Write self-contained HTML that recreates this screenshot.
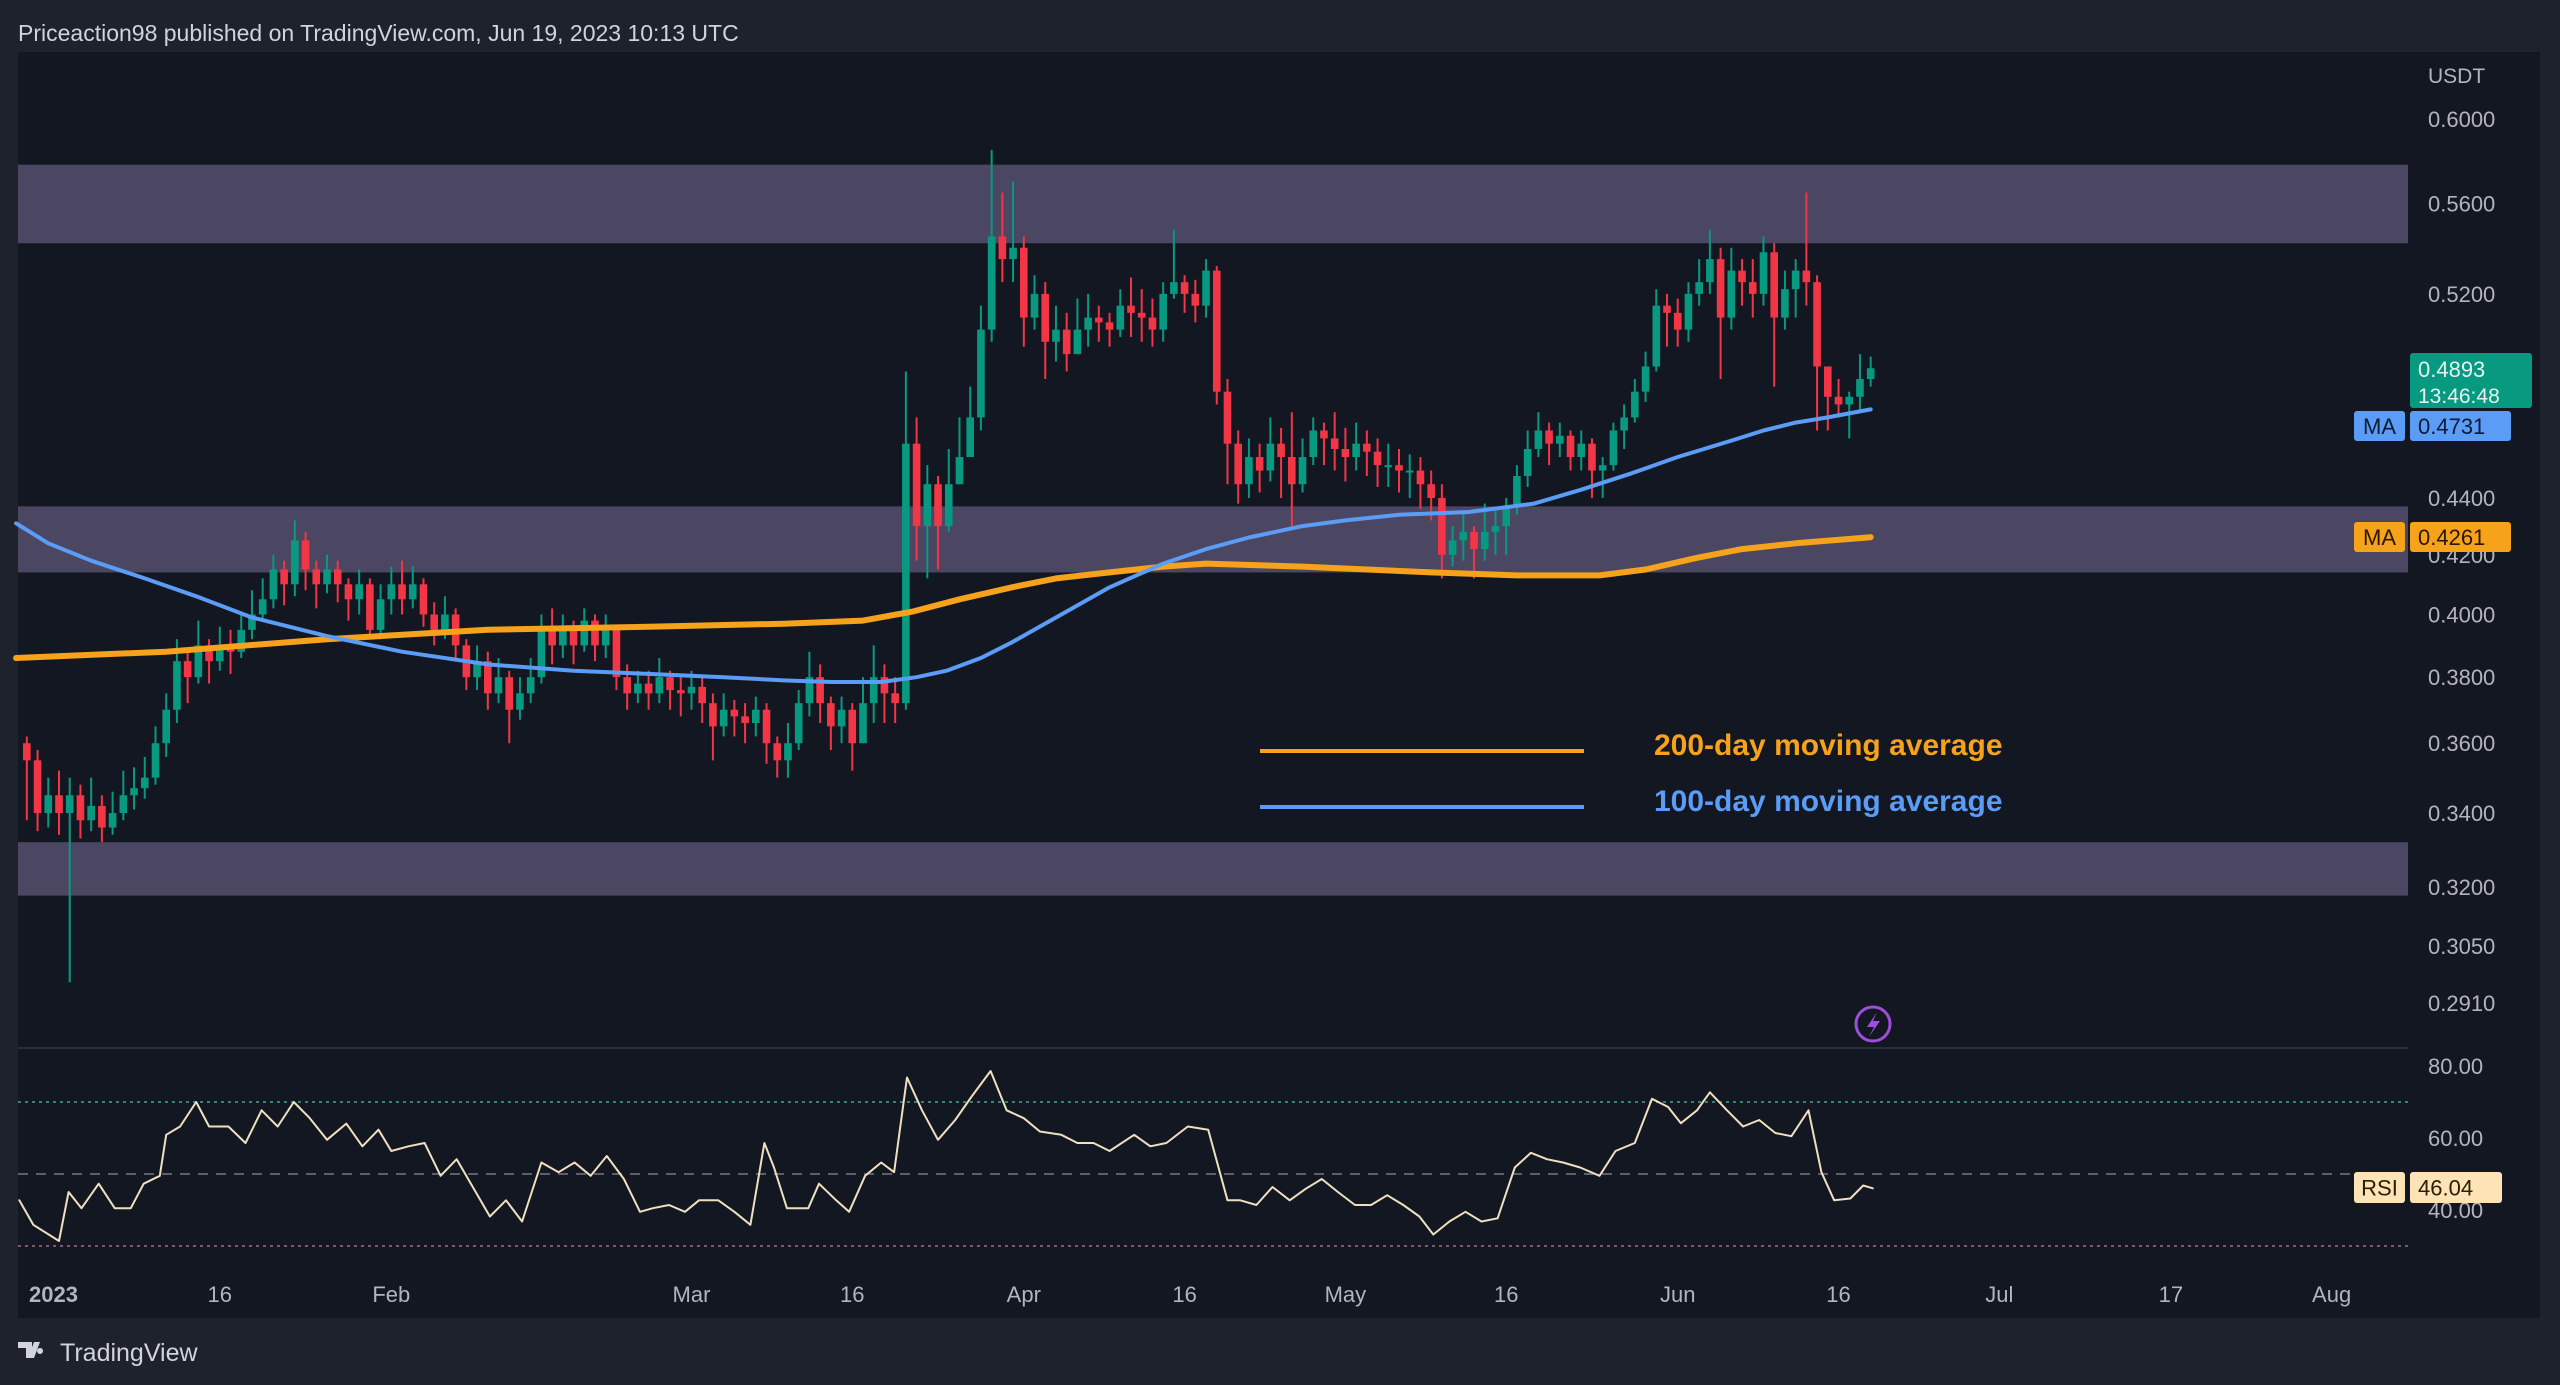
<!DOCTYPE html>
<html><head><meta charset="utf-8"><style>
html,body{margin:0;padding:0;background:#1e222d;width:2560px;height:1385px;overflow:hidden;font-family:"Liberation Sans",sans-serif}
svg{display:block}
</style></head><body>
<svg id="chart" width="2560" height="1385" xmlns="http://www.w3.org/2000/svg" font-family="Liberation Sans, sans-serif">
<rect x="0" y="0" width="2560" height="1385" fill="#1e222d"/>
<text x="18" y="41" fill="#d1d4dc" font-size="23">Priceaction98 published on TradingView.com, Jun 19, 2023 10:13 UTC</text>
<rect x="18" y="52" width="2522" height="1266" fill="#131722"/>
<g id="bands"></g>
<line x1="18" y1="1048" x2="2540" y2="1048" stroke="#2a2e39" stroke-width="2"/>
<g id="grid"></g>
<g id="candles"></g>
<g id="mas"></g>
<g id="rsi"></g>
<g id="axes"></g>
<g>
<line x1="1260" y1="751" x2="1584" y2="751" stroke="#f7a21b" stroke-width="4"/>
<text x="1654" y="747" fill="#f7a21b" font-size="30" font-weight="bold" dominant-baseline="middle">200-day moving average</text>
<line x1="1260" y1="807" x2="1584" y2="807" stroke="#5b9cf6" stroke-width="4"/>
<text x="1654" y="803" fill="#5b9cf6" font-size="30" font-weight="bold" dominant-baseline="middle">100-day moving average</text>
</g>
<g>
<circle cx="1873" cy="1024" r="17" fill="none" stroke="#9c4fd9" stroke-width="3"/>
<path d="M1877 1012 L1867 1027 L1874 1027 L1869 1037 L1880 1021 L1873 1021 Z" fill="#9c4fd9"/>
</g>
<g>
<path d="M18 1342 h14 v16 h-6 v-10 h-8 z M34 1342 h6 l-6 16 h-6 z M40 1348 a3 3 0 1 0 0.1 0 z" fill="#d1d4dc"/>
<text x="60" y="1361" fill="#d1d4dc" font-size="25">TradingView</text>
</g>
</svg>
<script>
const closes=[0.355,0.340,0.345,
0.340,0.345,0.338,0.342,0.336,0.340,0.345,0.347,0.350,0.360,
0.370,0.385,0.380,0.390,0.385,0.390,0.388,0.395,0.400,0.405,
0.415,0.410,0.425,0.415,0.410,0.415,0.410,0.405,0.410,0.395,0.405,
0.410,0.405,0.410,0.400,0.395,0.400,0.390,0.380,0.385,0.375,0.380,0.370,0.375,0.380,
0.395,0.390,0.395,0.390,0.398,0.390,0.395,0.380,0.375,0.378,0.375,0.380,0.376,0.375,
0.377,0.372,0.365,0.370,0.368,0.366,0.370,0.360,0.355,0.360,0.372,0.380,0.372,0.365,0.370,
0.360,0.372,0.380,0.375,0.372,0.460,0.430,0.445,0.430,0.445,0.455,0.470,0.505,0.545,0.535,0.540,
0.510,0.520,0.500,0.505,0.495,0.505,0.510,0.508,0.505,0.515,0.512,0.510,0.505,0.520,0.525,
0.520,0.515,0.530,0.480,0.460,0.445,0.455,0.450,0.460,0.455,0.445,0.455,0.465,0.462,0.458,
0.455,0.460,0.457,0.452,0.452,0.450,0.450,0.445,0.440,0.420,0.425,0.428,0.422,0.428,0.430,
0.437,0.448,0.458,0.465,0.460,0.463,0.455,0.460,0.450,0.452,0.465,0.470,0.480,0.490,0.515,0.512,
0.505,0.520,0.525,0.535,0.510,0.530,0.525,0.520,0.538,0.510,0.522,0.530,0.525,0.490,0.478,0.475,0.478,0.485,0.4893];
const highs=[0.362,0.358,0.350,
0.352,0.350,0.348,0.350,0.345,0.346,0.352,0.353,0.356,0.365,
0.375,0.392,0.388,0.398,0.392,0.396,0.395,0.401,0.408,0.412,
0.420,0.418,0.432,0.428,0.418,0.420,0.418,0.412,0.415,0.412,0.410,
0.416,0.418,0.416,0.412,0.404,0.406,0.402,0.392,0.390,0.388,0.386,0.382,0.380,0.386,
0.400,0.402,0.400,0.398,0.402,0.400,0.400,0.396,0.384,0.382,0.382,0.386,0.382,0.380,
0.382,0.380,0.375,0.375,0.373,0.372,0.374,0.372,0.362,0.366,0.376,0.388,0.384,0.374,0.374,
0.372,0.380,0.390,0.384,0.380,0.488,0.470,0.452,0.448,0.458,0.470,0.482,0.515,0.585,0.565,0.570,
0.545,0.528,0.525,0.515,0.512,0.518,0.520,0.515,0.512,0.522,0.527,0.522,0.518,0.525,0.548,
0.528,0.526,0.535,0.532,0.485,0.465,0.462,0.460,0.470,0.466,0.472,0.462,0.470,0.468,0.472,
0.466,0.468,0.465,0.462,0.460,0.458,0.456,0.455,0.450,0.445,0.430,0.435,0.430,0.438,0.436,
0.440,0.452,0.465,0.472,0.468,0.468,0.465,0.465,0.462,0.455,0.468,0.475,0.485,0.496,0.522,0.520,
0.518,0.525,0.535,0.548,0.540,0.540,0.535,0.535,0.545,0.542,0.530,0.535,0.565,0.528,0.482,0.485,0.480,0.495,0.494];
const lows=[0.338,0.335,0.336,
0.334,0.296,0.333,0.335,0.332,0.334,0.338,0.341,0.344,0.348,
0.356,0.366,0.372,0.378,0.378,0.382,0.381,0.386,0.392,0.398,
0.402,0.403,0.406,0.408,0.402,0.407,0.404,0.398,0.400,0.392,0.392,
0.400,0.400,0.402,0.396,0.390,0.392,0.385,0.376,0.376,0.370,0.372,0.360,0.367,0.372,
0.378,0.384,0.386,0.384,0.388,0.385,0.386,0.376,0.370,0.372,0.370,0.372,0.370,0.368,
0.370,0.366,0.355,0.362,0.362,0.360,0.362,0.354,0.350,0.350,0.358,0.368,0.366,0.358,0.360,
0.352,0.360,0.366,0.366,0.366,0.370,0.418,0.412,0.415,0.428,0.445,0.455,0.465,0.500,0.525,0.525,
0.498,0.505,0.485,0.492,0.488,0.495,0.498,0.500,0.498,0.502,0.502,0.500,0.498,0.500,0.518,
0.512,0.508,0.510,0.475,0.445,0.438,0.440,0.442,0.446,0.440,0.430,0.442,0.452,0.452,0.450,
0.446,0.450,0.448,0.444,0.444,0.442,0.440,0.436,0.432,0.412,0.416,0.418,0.412,0.418,0.420,
0.420,0.434,0.444,0.455,0.452,0.455,0.450,0.450,0.440,0.440,0.450,0.458,0.468,0.476,0.488,0.498,
0.498,0.500,0.515,0.520,0.485,0.505,0.515,0.510,0.515,0.482,0.505,0.510,0.515,0.465,0.465,0.470,0.462,0.472,0.482];
const firstOpen=0.360;
const firstDay=-3;
const ma100Days=[-4,-1,3,8,12.8,18,25,32,40,48,55,62,67.6,72,76.7,80,82.8,86,88.9,93,98,103,107,111,116,120,125,131.5,137.6,142,146.7,151,155.9,159,162,165,169];
const ma100Vals=[0.431,0.424,0.418,0.412,0.406,0.399,0.393,0.388,0.384,0.382,0.381,0.380,0.379,0.3785,0.3785,0.380,0.382,0.386,0.391,0.399,0.409,0.417,0.422,0.426,0.430,0.432,0.434,0.435,0.438,0.443,0.449,0.455,0.461,0.465,0.468,0.470,0.4731];
const ma200Days=[-4,10,25,40,55,67.6,75,79.7,84,88.9,93,98,103,107,116,128,136,143.7,148,152.8,157,162,169];
const ma200Vals=[0.386,0.388,0.392,0.395,0.396,0.397,0.398,0.401,0.405,0.409,0.412,0.414,0.416,0.417,0.416,0.414,0.413,0.413,0.415,0.419,0.422,0.424,0.4261];
const rsiDays=[-3.7,-2.4,0,0.9,2.1,3.7,5.2,6.7,7.9,9.4,10,11.3,12.8,14,15.8,17.4,18.9,20.4,21.9,23.4,25,26.8,28.3,29.8,31,32.6,34.1,35.6,37.1,40.2,41.7,43.2,45,46.6,48.1,49.6,51.1,52.7,54.2,55.4,56.9,58.4,59.7,61.5,63,64.5,65.8,66.7,67.9,69.9,70.9,72.5,73.7,75.2,76.7,77.9,79.1,80.5,82,83.6,85.1,86.9,88.4,90,91.5,93.5,95,96.5,98,100.3,101.8,103.3,105.3,107.2,109,110.2,111.7,113.2,114.8,116.3,117.8,119.3,120.9,122.4,123.9,125.4,126.9,128.2,129.7,131.2,132.7,134.2,135.8,137.3,138.8,140.3,141.9,143.7,145.2,147,148.6,150.1,151.3,152.8,154,155.6,157.1,158.6,160.1,161.6,163.2,164.4,165.6,167.1,168.3,169.2];
const rsiVals=[42.7,35.9,31.4,45,40.5,47.3,40.5,40.5,47.3,49.5,60.9,63.2,70,63.2,63.2,58.6,67.7,63.2,70,65.5,59.5,64,57.7,62.3,56.4,57.7,58.6,49.5,54.1,38.2,42.7,36.8,53.2,50.5,53.2,49.5,55,48.6,39.5,40.5,41.4,39.5,42.7,42.7,39.5,35.9,58.6,51.8,40.5,40.5,47.3,42.7,39.5,49.5,53.2,50.5,76.8,67.7,59.5,65,71.4,78.6,67.7,65.5,61.8,60.9,58.6,58.6,56.4,60.9,57.7,58.6,63.2,62.3,42.7,42.7,41.4,46.4,42.7,45.9,48.6,45,41.4,41.4,44.1,41.4,38.2,33.2,36.8,39.5,36.8,37.7,51.8,55.9,54.1,53.2,51.8,49.5,56.4,58.6,70.9,68.6,64.1,67.7,72.7,67.7,63.2,65,61.4,60.5,67.7,50.5,42.7,43.2,46.8,46.04];
const priceTicks=["0.6000","0.5600","0.5200","0.4400","0.4200","0.4000","0.3800","0.3600","0.3400","0.3200","0.3050","0.2910"];
const rsiTicks=["80.00","60.00","40.00"];
const timeLabels=["2023","16","Feb","Mar","16","Apr","16","May","16","Jun","16","Jul","17","Aug"];
const timeDays=[0,15,31,59,74,90,105,120,135,151,166,181,197,212];
const bandsTop=[0.578,0.437,0.332];
const bandsBot=[0.542,0.414,0.3178];

const NS="http://www.w3.org/2000/svg";
const PL=18,PR=2408;
function X(d){return 59+d*10.72;}
function Y(p){return 119+1222*Math.log(0.6/p);}
function RY(v){return 1066+(80-v)*3.6;}
function mk(tag,attrs,parent){const e=document.createElementNS(NS,tag);for(const k in attrs)e.setAttribute(k,attrs[k]);parent.appendChild(e);return e;}

const gB=document.getElementById('bands');
bandsTop.forEach((t,i)=>{
 const r=mk('rect',{x:PL,y:Y(t),width:PR-PL,height:Y(bandsBot[i])-Y(t),fill:'#4b4763'},gB);
 
 
});
const gG=document.getElementById('grid');
[[70,'#3c7f7a','3,4'],[50,'#5d606b','10,8'],[30,'#7a5a66','3,4']].forEach(a=>{
 const l=mk('line',{x1:PL,x2:PR,y1:RY(a[0]),y2:RY(a[0]),stroke:a[1],'stroke-width':2,'stroke-dasharray':a[2]},gG);
 
 
});
const gC=document.getElementById('candles');
let prev=firstOpen;
closes.forEach((c,i)=>{
 const d=firstDay+i,o=prev,x=X(d);prev=c;
 const col=c>=o?'#089981':'#f23645';
 const g=mk('g',{},gC);
 
 
 mk('line',{x1:x,x2:x,y1:Y(highs[i]),y2:Y(lows[i]),stroke:col,'stroke-width':2},g);
 const t=Math.min(Y(o),Y(c)),h=Math.max(2,Math.abs(Y(o)-Y(c)));
 mk('rect',{x:x-3.8,y:t,width:7.6,height:h,fill:col},g);
});
const gM=document.getElementById('mas');
function poly(days,vals,fn,col,w,name,parent){
 const pts=days.map((d,i)=>X(d).toFixed(1)+','+fn(vals[i]).toFixed(1)).join(' ');
 const p=mk('polyline',{points:pts,fill:'none',stroke:col,'stroke-width':w,'stroke-linejoin':'round','stroke-linecap':'round'},parent);
 
 
}
poly(ma200Days,ma200Vals,Y,'#f7a21b',6,'ma-200-line',gM);
poly(ma100Days,ma100Vals,Y,'#5b9cf6',4,'ma-100-line',gM);
const gR=document.getElementById('rsi');
poly(rsiDays,rsiVals,RY,'#efe0c0',2,'rsi-line',gR);

const gA=document.getElementById('axes');
mk('rect',{x:2408,y:52,width:132,height:1266,fill:'#131722'},gA);
const u=mk('text',{x:2428,y:83,fill:'#b2b5be','font-size':21},gA);u.textContent='USDT';


priceTicks.forEach(t=>{
 const e=mk('text',{x:2428,y:Y(parseFloat(t))+8,fill:'#b2b5be','font-size':22},gA);e.textContent=t;
 
 
});
rsiTicks.forEach(t=>{
 const e=mk('text',{x:2428,y:RY(parseFloat(t))+8,fill:'#b2b5be','font-size':22},gA);e.textContent=t;
 
 
});
timeLabels.forEach((t,i)=>{
 const x=i===0?29:X(timeDays[i]);
 const e=mk('text',{x:x,y:1302,fill:'#b2b5be','font-size':22,'text-anchor':i===0?'start':'middle','font-weight':i===0?'bold':'normal'},gA);e.textContent=t;
 
 
});
function tag(y,h,label,val,bg,fg,lw,vw,extra){
 const g=mk('g',{},gA);
 
 
 if(label){mk('rect',{x:2405-lw,y:y,width:lw,height:h,rx:3,fill:bg},g);
  const t=mk('text',{x:2405-lw/2,y:y+h/2+8,fill:fg,'font-size':22,'text-anchor':'middle'},g);t.textContent=label;}
 mk('rect',{x:2410,y:y,width:vw,height:h,rx:3,fill:bg},g);
 const t2=mk('text',{x:2418,y:y+(extra?24:h/2+8),fill:fg,'font-size':22},g);t2.textContent=val;
 if(extra){const t3=mk('text',{x:2418,y:y+50,fill:fg,'font-size':21},g);t3.textContent=extra;}
}
tag(353,55,'',closes[closes.length-1].toFixed(4),'#089981','#e6f4f1',0,122,'13:46:48');
tag(411,30,'MA',ma100Vals[ma100Vals.length-1].toFixed(4),'#5b9cf6','#0d1b33',51,101);
tag(522,30,'MA',ma200Vals[ma200Vals.length-1].toFixed(4),'#f7a21b','#2a1700',51,101);
tag(1172,31,'RSI',rsiVals[rsiVals.length-1].toFixed(2),'#fde3b5','#2a2000',51,92);
</script>
</body></html>
